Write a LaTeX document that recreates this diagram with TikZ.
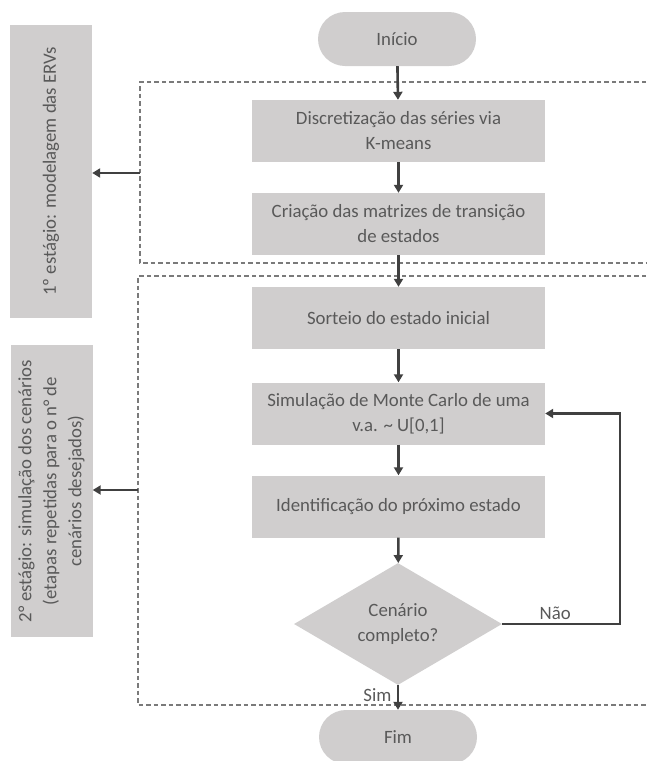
\documentclass[tikz,border=0pt]{standalone}
\usepackage{fontspec}
\setmainfont{Carlito}
\usetikzlibrary{shapes.geometric,arrows.meta}
\definecolor{boxgray}{HTML}{D0CECE}
\definecolor{txtgray}{HTML}{595959}
\definecolor{arrgray}{HTML}{404040}
\tikzset{
  proc/.style={fill=boxgray,text=txtgray,minimum width=293pt,minimum height=62pt,
    align=center,inner sep=2pt},
  term/.style={fill=boxgray,text=txtgray,rounded corners=27pt,minimum width=158pt,
    minimum height=54pt},
  decide/.style={diamond,fill=boxgray,text=txtgray,minimum width=208pt,
    minimum height=108pt,inner sep=0pt,align=center},
  stage/.style={fill=boxgray,text=txtgray,rotate=90,align=center,minimum height=82pt},
  flow/.style={arrgray,line width=2.6pt,-{Triangle[length=8pt,width=9pt]}},
  zone/.style={txtgray!80,line width=1.1pt,dash pattern=on 4.5pt off 3pt}
}
\begin{document}
\begin{tikzpicture}[x=1pt,y=-1pt,font=\fontsize{18.8}{25}\selectfont]
\useasboundingbox (0,0) rectangle (646,761);
% stage zones
\draw[zone](646,82)--(140,82)--(140,263)--(646,263);
\draw[zone](646,276)--(138,276)--(138,705)--(646,705);
\coordinate (z1) at (140,173);
\coordinate (z2) at (138,490);
% stage labels
\node[stage,minimum width=293pt] (stg1) at (51,171.5) {1º estágio: modelagem das ERVs};
\node[stage,minimum width=292pt] (stg2) at (51.5,491) {2° estágio: simulação dos cenários\\
(etapas repetidas para o n° de\\cenários desejados)};
% main flow
\node[term] (ini) at (397,39) {Início};
\node[proc] (disc) at (398.5,131) {Discretização das séries via\\K-means};
\node[proc] (matr) at (398.5,224) {Criação das matrizes de transição\\de estados};
\node[proc] (sort) at (398.5,318) {Sorteio do estado inicial};
\node[proc] (simu) at (398.5,413.5) {Simulação de Monte Carlo de uma\\v.a. \textasciitilde\ U[0,1]};
\node[proc] (prox) at (398.5,506.5) {Identificação do próximo estado};
\node[decide] (cen) at (398,624) {Cenário\\completo?};
\node[term] (fim) at (398,737) {Fim};
\coordinate (volta) at (620,624);
\draw[flow](ini)--(disc);
\draw[flow](disc)--(matr);
\draw[flow](matr)--(sort);
\draw[flow](sort)--(simu);
\draw[flow](simu)--(prox);
\draw[flow](prox)--(cen);
\draw[flow](cen)--node[text=txtgray,left,pos=0.4,xshift=-2pt]{Sim}(fim);
\draw[flow](cen.east)--node[text=txtgray,above,pos=0.45]{Não}(volta)|-(simu.east);
\draw[flow](z1)--(z1-|stg1.south);
\draw[flow](z2)--(z2-|stg2.south);
\end{tikzpicture}
\end{document}
